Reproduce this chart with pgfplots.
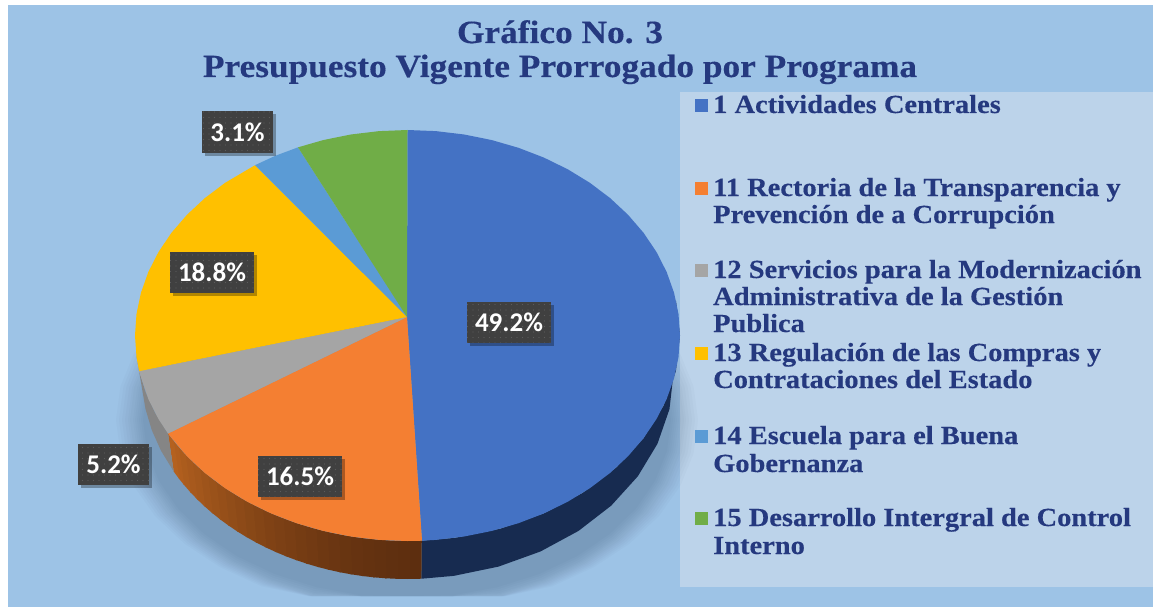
\documentclass[border=0pt]{standalone}
\usepackage{fontspec}
\usepackage{pgfplots}
\usepackage{pgfplotstable}
\pgfplotsset{compat=1.18}
\usetikzlibrary{patterns.meta,shadows}
\newfontfamily\ser[FakeStretch=1.09,FakeBold=0.35]{Liberation Serif}
\newfontfamily\lab{Carlito}
\definecolor{bgb}{HTML}{9DC3E6}
\definecolor{panel}{HTML}{BCD3EA}
\definecolor{ink}{HTML}{25397F}
\definecolor{c1}{HTML}{4472C4}
\definecolor{c2}{HTML}{F47F32}
\definecolor{c3}{HTML}{A5A5A5}
\definecolor{c4}{HTML}{FFC000}
\definecolor{c5}{HTML}{5B9BD5}
\definecolor{c6}{HTML}{70AD47}
\definecolor{sideA}{HTML}{B4611F}
\definecolor{sideB}{HTML}{5D2E0F}
\definecolor{sideblue}{HTML}{172B50}
\definecolor{sidegrey}{HTML}{858585}
\definecolor{shad}{HTML}{1F3550}
% slice: r=0 apex, r=1 rim.  t = rim parameter, clockwise from the top
\newcommand{\xs}{407+\thisrow{r}*(0.5+272.5*sin(\thisrow{t}))}
\newcommand{\ys}{317+\thisrow{r}*(18.5-205.5*cos(\thisrow{t}))}
% wall: s=0 upper rim, s=1 lower rim
\newcommand{\xw}{407.5+(272.5-6.5*\thisrow{s})*sin(\thisrow{t})}
\newcommand{\yw}{335.5+38*\thisrow{s}-205.5*cos(\thisrow{t})}
\pgfplotstableread[row sep=\\]{t u\\0 0\\10 0\\20 0\\30 0\\40 0\\50 0\\60 0\\70 0\\80 0\\90 0\\100 0\\110 0\\120 0\\130 0\\140 0\\150 0\\160 0\\170 0\\180 0\\190 0\\200 0\\210 0\\220 0\\230 0\\240 0\\250 0\\260 0\\270 0\\280 0\\290 0\\300 0\\310 0\\320 0\\330 0\\340 0\\350 0\\}\halfarc
\newcommand{\shadowlayer}[2]{\addplot[fill=shad,draw=none,fill opacity=.024] table[x expr={407+#1*sin(\thisrow{t})},y expr={min(420-#2*cos(\thisrow{t}),596)}]{\halfarc};}
\newcommand{\owall}[3]{\addplot[fill=sideA!#3!sideB,draw=none] table[row sep=\\,x expr=\xw,y expr=\yw]{t s\\#1 0\\#2 0\\#2 1\\#1 1\\};}
\newcommand{\leg}[2]{\node[anchor=base west,inner sep=0pt,text=ink,font=\ser\bfseries\fontsize{26.1}{27}\selectfont] at (axis cs:713,#1) {#2};}
\newcommand{\plab}[4]{\node[minimum width=#3pt,minimum height=41pt,inner sep=0pt,text=white,font=\lab\bfseries\fontsize{27}{28}\selectfont,
  drop shadow={shadow xshift=3pt,shadow yshift=-3pt,opacity=.3,fill=black},
  preaction={fill={rgb,255:red,64;green,64;blue,64}},pattern={Dots[radius=.7pt,distance=5.5pt]},pattern color={rgb,255:red,92;green,92;blue,92}] at (axis cs:#1,#2) {#4};}
\begin{document}
\begin{tikzpicture}
\begin{axis}[scale only axis,width=1153pt,height=607pt,xmin=0,xmax=1153,ymin=0,ymax=607,y dir=reverse,hide axis,no markers,clip=true]
% page and backgrounds
\addplot[fill=white,draw=none] coordinates {(0,0)(1153,0)(1153,607)(0,607)};
\addplot[fill=bgb,draw=none] coordinates {(8,5)(1153,5)(1153,607)(8,607)};
\addplot[fill=panel,draw=none] coordinates {(680,92)(1153,92)(1153,587)(680,587)};
% shadow
\shadowlayer{291}{192}
\shadowlayer{288}{191}
\shadowlayer{285}{190}
\shadowlayer{282}{189}
\shadowlayer{279}{188}
\shadowlayer{277}{187}
\shadowlayer{274}{186}
\shadowlayer{272}{185}
\shadowlayer{270}{184}
\shadowlayer{268}{182}
\shadowlayer{266}{180}
\shadowlayer{264}{178}
% side wall
\addplot[fill=sideblue,draw=none] table[row sep=\\,x expr=\xw,y expr=\yw]{t s\\80 0\\90 0\\100 0\\110 0\\120 0\\130 0\\140 0\\150 0\\160 0\\170 0\\177 0\\177 1\\170 1\\160 1\\150 1\\140 1\\130 1\\120 1\\110 1\\100 1\\90 1\\80 1\\};
\owall{177}{179.9}{0}
\owall{179.5}{182.4}{2}
\owall{182}{184.9}{4}
\owall{184.5}{187.4}{6}
\owall{187}{189.9}{8}
\owall{189.5}{192.4}{10}
\owall{192}{194.9}{13}
\owall{194.5}{197.4}{16}
\owall{197}{199.9}{20}
\owall{199.5}{202.4}{24}
\owall{202}{204.9}{28}
\owall{204.5}{207.4}{32}
\owall{207}{209.9}{36}
\owall{209.5}{212.4}{40}
\owall{212}{214.9}{45}
\owall{214.5}{217.4}{50}
\owall{217}{219.9}{55}
\owall{219.5}{222.4}{60}
\owall{222}{224.9}{65}
\owall{224.5}{227.4}{70}
\owall{227}{229.9}{75}
\owall{229.5}{232.4}{80}
\owall{232}{234.9}{85}
\owall{234.5}{237.4}{90}
\owall{237}{239.4}{95}
\owall{239}{241.5}{100}
\addplot[fill=sidegrey,draw=none] table[row sep=\\,x expr=\xw,y expr=\yw]{t s\\241.5 0\\248 0\\254 0\\260 0\\265 0\\265 1\\260 1\\254 1\\248 1\\241.5 1\\};
% top of the pie
\addplot[fill=c1,draw=none] table[row sep=\\,x expr=\xs,y expr=\ys]{t r\\0 0\\0 1\\6 1\\12 1\\18 1\\24 1\\30 1\\36 1\\42 1\\48 1\\54 1\\60 1\\66 1\\72 1\\78 1\\84 1\\90 1\\96 1\\102 1\\108 1\\114 1\\120 1\\126 1\\132 1\\138 1\\144 1\\150 1\\156 1\\162 1\\168 1\\174 1\\176.95 1\\};
\addplot[fill=c2,draw=none] table[row sep=\\,x expr=\xs,y expr=\ys]{t r\\0 0\\176.95 1\\180 1\\186 1\\192 1\\198 1\\204 1\\210 1\\216 1\\222 1\\228 1\\234 1\\241.5 1\\};
\addplot[fill=c3,draw=none] table[row sep=\\,x expr=\xs,y expr=\ys]{t r\\0 0\\241.5 1\\246 1\\252 1\\260 1\\};
\addplot[fill=c4,draw=none] table[row sep=\\,x expr=\xs,y expr=\ys]{t r\\0 0\\260 1\\264 1\\270 1\\276 1\\282 1\\288 1\\294 1\\300 1\\306 1\\312 1\\318 1\\326 1\\};
\addplot[fill=c5,draw=none] table[row sep=\\,x expr=\xs,y expr=\ys]{t r\\0 0\\326 1\\331 1\\336.3 1\\};
\addplot[fill=c6,draw=none] table[row sep=\\,x expr=\xs,y expr=\ys]{t r\\0 0\\336.3 1\\342 1\\348 1\\354 1\\360 1\\};
% legend keys
\addplot[fill=c1,draw=none] coordinates {(695,99)(708,99)(708,112)(695,112)};
\addplot[fill=c2,draw=none] coordinates {(695,182)(708,182)(708,195)(695,195)};
\addplot[fill=c3,draw=none] coordinates {(695,264)(708,264)(708,277)(695,277)};
\addplot[fill=c4,draw=none] coordinates {(695,347)(708,347)(708,360)(695,360)};
\addplot[fill=c5,draw=none] coordinates {(695,430)(708,430)(708,443)(695,443)};
\addplot[fill=c6,draw=none] coordinates {(695,512)(708,512)(708,525)(695,525)};
% title
\node[anchor=base,inner sep=0pt,text=ink,font=\ser\bfseries\fontsize{32.4}{33}\selectfont] at (axis cs:560,43) {Gráfico No. 3};
\node[anchor=base,inner sep=0pt,text=ink,font=\ser\bfseries\fontsize{32.4}{33}\selectfont] at (axis cs:560,77) {Presupuesto Vigente Prorrogado por Programa};
% legend text
\leg{113}{1 Actividades Centrales}
\leg{196}{11 Rectoria de la Transparencia y}
\leg{223}{Prevención de a Corrupción}
\leg{278}{12 Servicios para la Modernización}
\leg{305}{Administrativa de la Gestión}
\leg{332}{Publica}
\leg{361}{13 Regulación de las Compras y}
\leg{388}{Contrataciones del Estado}
\leg{444}{14 Escuela para el Buena}
\leg{472}{Gobernanza}
\leg{526}{15 Desarrollo Intergral de Control}
\leg{554}{Interno}
% data labels
\plab{509}{322}{84}{49.2\%}
\plab{300}{476}{84}{16.5\%}
\plab{113.5}{464}{71}{5.2\%}
\plab{212}{272}{84}{18.8\%}
\plab{237.5}{132}{71}{3.1\%}
\end{axis}
\end{tikzpicture}
\end{document}
